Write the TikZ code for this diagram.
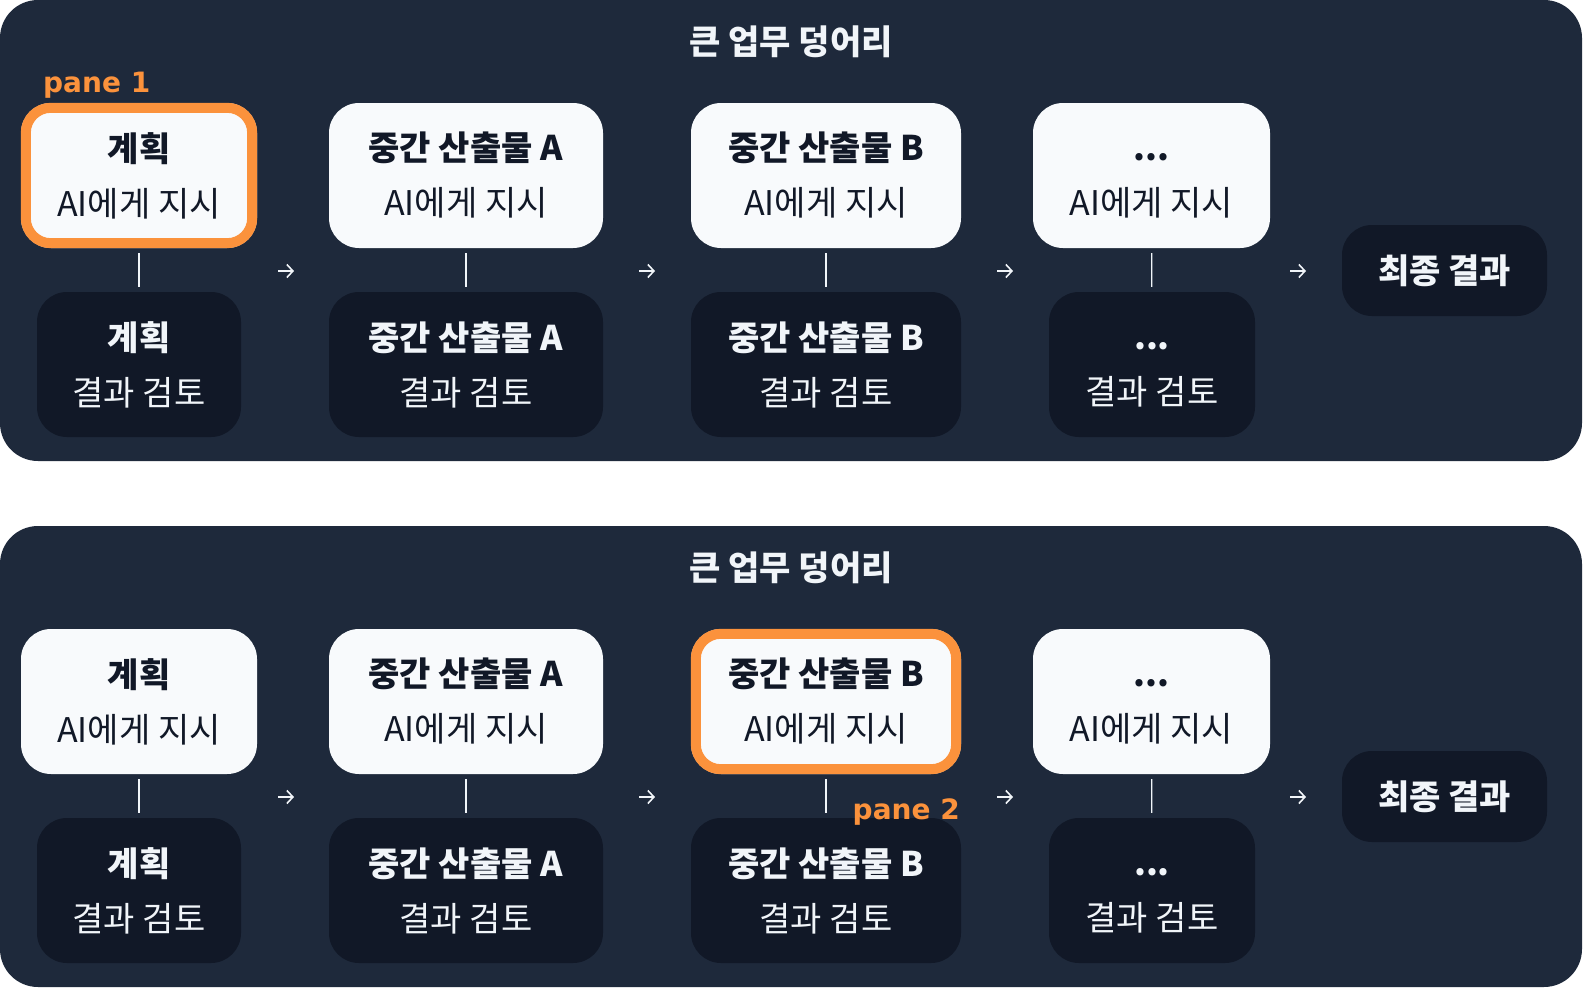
\documentclass[tikz,border=0pt]{standalone}
\usepackage{fontspec}
\setmainfont{Noto Sans CJK KR}
\newfontfamily\panefont{DejaVu Sans}
\usetikzlibrary{arrows.meta}
\definecolor{panelbg}{HTML}{1E293B}
\definecolor{boxdark}{HTML}{111827}
\definecolor{boxlight}{HTML}{F8FAFC}
\definecolor{ink}{HTML}{111827}
\definecolor{paper}{HTML}{F1F5F9}
\definecolor{accent}{HTML}{FB923C}
\begin{document}
\begin{tikzpicture}[x=1pt,y=-1pt,
    panel/.style={fill=panelbg,rounded corners=38pt,minimum width=1582pt,minimum height=461pt,inner sep=0pt},
    heading/.style={text=paper,font=\fontsize{34pt}{40pt}\selectfont\bfseries},
    ask/.style={fill=boxlight,text=ink,rounded corners=30pt,minimum height=145pt,inner sep=0pt,align=center,
        font=\fontsize{34pt}{55pt}\selectfont},
    chk/.style={ask,fill=boxdark,text=paper},
    fin/.style={fill=boxdark,text=paper,rounded corners=30pt,minimum width=205pt,minimum height=91pt,inner sep=0pt,font=\fontsize{34pt}{40pt}\selectfont\bfseries},
    tie/.style={draw=paper,line width=1.3pt,shorten <=5pt,shorten >=5pt},
    flow/.style={draw=paper,line width=1.6pt,-{Straight Barb[length=6pt,width=13pt]}},
    pick/.style={draw=accent,line width=10pt,rounded corners=25pt},
    tag/.style={text=accent,font=\fontsize{28pt}{32pt}\selectfont\panefont\bfseries,inner sep=0pt}]
    \useasboundingbox (0,0) rectangle (1583,988);
    %% Panels
    \node[panel] (panA) at (791,230.5) {};
    \node[panel] (panB) at (791,756.5) {};
    \node[heading] (headA) at (791,42) {큰 업무 덩어리};
    \node[heading] (headB) at (791,568) {큰 업무 덩어리};
    %% Top panel: instructions
    \node[ask,minimum width=236pt] (askA1) at (139,175.5) {\textbf{계획}\\AI에게 지시};
    \node[ask,minimum width=274pt] (askA2) at (466,175.5) {\textbf{중간 산출물 A}\\AI에게 지시};
    \node[ask,minimum width=270pt] (askA3) at (826,175.5) {\textbf{중간 산출물 B}\\AI에게 지시};
    \node[ask,minimum width=237pt] (askA4) at (1151.5,175.5) {\textbf{...}\vphantom{계}\\AI에게 지시};
    %% Top panel: reviews
    \node[chk,minimum width=204pt] (chkA1) at (139,364.5) {\textbf{계획}\\결과 검토};
    \node[chk,minimum width=274pt] (chkA2) at (466,364.5) {\textbf{중간 산출물 A}\\결과 검토};
    \node[chk,minimum width=270pt] (chkA3) at (826,364.5) {\textbf{중간 산출물 B}\\결과 검토};
    \node[chk,minimum width=206pt] (chkA4) at (1152,364.5) {\textbf{...}\vphantom{계}\\결과 검토};
    \node[fin] (finA) at (1444.5,270.5) {최종 결과};
    %% Bottom panel: instructions
    \node[ask,minimum width=236pt] (askB1) at (139,701.5) {\textbf{계획}\\AI에게 지시};
    \node[ask,minimum width=274pt] (askB2) at (466,701.5) {\textbf{중간 산출물 A}\\AI에게 지시};
    \node[ask,minimum width=270pt] (askB3) at (826,701.5) {\textbf{중간 산출물 B}\\AI에게 지시};
    \node[ask,minimum width=237pt] (askB4) at (1151.5,701.5) {\textbf{...}\vphantom{계}\\AI에게 지시};
    %% Bottom panel: reviews
    \node[chk,minimum width=204pt] (chkB1) at (139,890.5) {\textbf{계획}\\결과 검토};
    \node[chk,minimum width=274pt] (chkB2) at (466,890.5) {\textbf{중간 산출물 A}\\결과 검토};
    \node[chk,minimum width=270pt] (chkB3) at (826,890.5) {\textbf{중간 산출물 B}\\결과 검토};
    \node[chk,minimum width=206pt] (chkB4) at (1152,890.5) {\textbf{...}\vphantom{계}\\결과 검토};
    \node[fin] (finB) at (1444.5,796.5) {최종 결과};
    %% Links
    \draw[tie] (askA1) -- (chkA1);
    \draw[tie] (askA2) -- (chkA2);
    \draw[tie] (askA3) -- (chkA3);
    \draw[tie] (askA4) -- (chkA4);
    \draw[tie] (askB1) -- (chkB1);
    \draw[tie] (askB2) -- (chkB2);
    \draw[tie] (askB3) -- (chkB3);
    \draw[tie] (askB4) -- (chkB4);
    %% Arrows
    \coordinate (goA1) at (286,271);
    \coordinate (goA2) at (647,271);
    \coordinate (goA3) at (1005,271);
    \coordinate (goA4) at (1298,271);
    \coordinate (goB1) at (286,797);
    \coordinate (goB2) at (647,797);
    \coordinate (goB3) at (1005,797);
    \coordinate (goB4) at (1298,797);
    \draw[flow] ([xshift=-8pt]goA1) -- ([xshift=8pt]goA1);
    \draw[flow] ([xshift=-8pt]goA2) -- ([xshift=8pt]goA2);
    \draw[flow] ([xshift=-8pt]goA3) -- ([xshift=8pt]goA3);
    \draw[flow] ([xshift=-8pt]goA4) -- ([xshift=8pt]goA4);
    \draw[flow] ([xshift=-8pt]goB1) -- ([xshift=8pt]goB1);
    \draw[flow] ([xshift=-8pt]goB2) -- ([xshift=8pt]goB2);
    \draw[flow] ([xshift=-8pt]goB3) -- ([xshift=8pt]goB3);
    \draw[flow] ([xshift=-8pt]goB4) -- ([xshift=8pt]goB4);
    %% Selected panes
    \draw[pick] ([shift={(5,5)}]askA1.north west) rectangle ([shift={(-5,-5)}]askA1.south east);
    \draw[pick] ([shift={(5,5)}]askB3.north west) rectangle ([shift={(-5,-5)}]askB3.south east);
    \node[tag,anchor=base west] (tagA) at (43,92) {pane 1};
    \node[tag,anchor=base east] (tagB) at (960,819) {pane 2};
\end{tikzpicture}
\end{document}
